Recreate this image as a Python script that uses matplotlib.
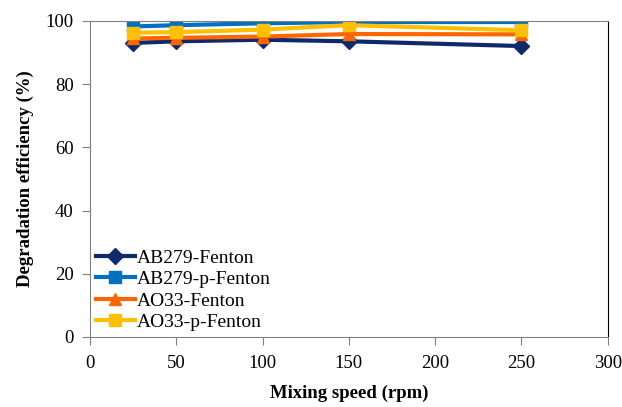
import matplotlib.pyplot as plt

plt.rcParams['font.family'] = ['Liberation Serif', 'DejaVu Serif']

speed = [25, 50, 100, 150, 250]
ab279_fenton = [93.0, 93.5, 94.0, 93.5, 92.0]
ab279_p_fenton = [98.2, 98.6, 99.2, 99.6, 99.6]
ao33_fenton = [94.4, 94.6, 95.0, 95.8, 95.7]
ao33_p_fenton = [96.2, 96.4, 97.2, 98.6, 97.0]

series = [
    ("AB279-Fenton", ab279_fenton, "#0f2a6a", "D"),
    ("AB279-p-Fenton", ab279_p_fenton, "#0070c0", "s"),
    ("AO33-Fenton", ao33_fenton, "#ff6600", "^"),
    ("AO33-p-Fenton", ao33_p_fenton, "#ffc000", "s"),
]

fig = plt.figure(figsize=(6.22, 4.07), dpi=100)
ax = fig.add_axes([0.145, 0.172, 0.832, 0.777])

for label, vals, color, marker in series:
    ax.plot(speed, vals, color=color, linewidth=3, marker=marker,
            markersize=8, label=label)

ax.set_xlim(0, 300)
ax.set_ylim(0, 100)
ax.set_xticks(range(0, 301, 50))
ax.set_yticks(range(0, 101, 20))
ax.tick_params(direction='out', length=6, color='#808080', labelsize=13.5)
ax.tick_params(axis='x', pad=7)
ax.tick_params(axis='y', pad=6)
for s in ax.spines.values():
    s.set_color('#808080')
ax.spines['right'].set_color('black')

ax.set_xlabel("Mixing speed (rpm)", fontsize=13.5, fontweight='bold', labelpad=9)
ax.set_ylabel("Degradation efficiency (%)", fontsize=13.5, fontweight='bold', labelpad=8)

ax.legend(loc='lower left', frameon=False, fontsize=14, handlelength=2.0,
          handletextpad=0.1, labelspacing=0.2, borderaxespad=0.1,
          borderpad=0.2)

fig.savefig("out.png", dpi=100)
